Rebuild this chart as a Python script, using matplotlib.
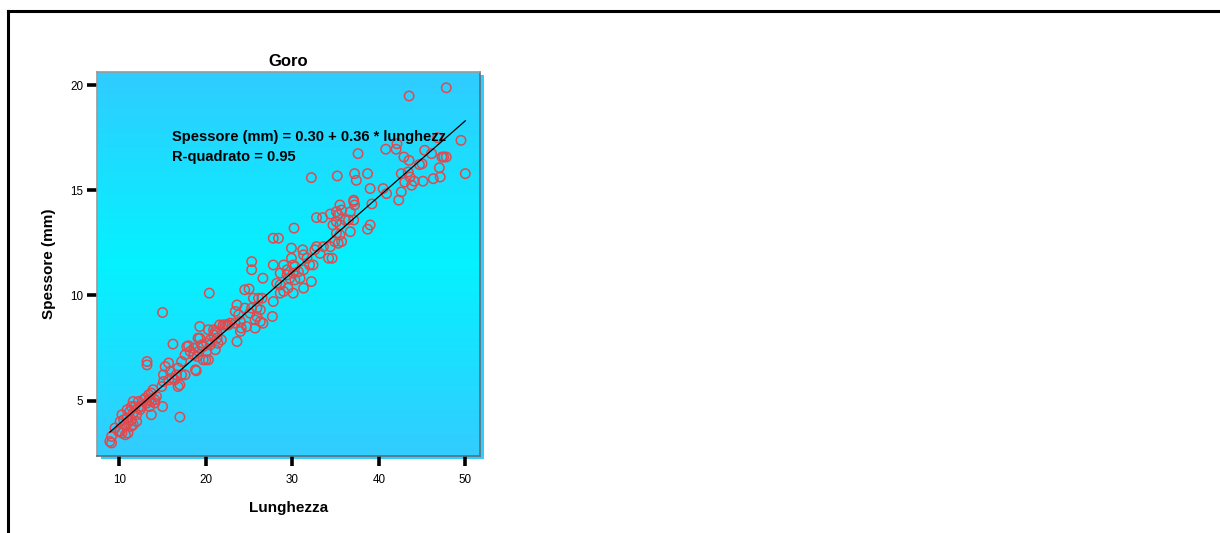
import numpy as np
import matplotlib.pyplot as plt
from matplotlib.colors import LinearSegmentedColormap
from matplotlib.patches import Rectangle
from matplotlib.lines import Line2D

plt.rcParams['font.family'] = ['Liberation Sans', 'DejaVu Sans']

# Goro: lunghezza vs spessore
lunghezza = [
    47.8, 43.5, 49.5, 50.0, 37.6, 40.8, 42.0, 42.1, 42.9, 43.5, 44.7, 45.0, 45.3, 46.1,
    47.3, 47.5, 47.8, 46.8, 47.0, 47.1, 46.3, 45.1, 44.1, 43.6, 43.4, 43.8, 43.0, 42.6,
    37.2, 37.4, 38.7, 39.0, 40.5, 40.9, 42.6, 42.3, 37.1, 35.2, 32.2,
    39.2, 37.1, 37.2, 35.5, 35.7, 35.1, 35.3, 34.4, 32.8, 33.5, 36.7, 36.1, 36.5, 37.1,
    34.7, 35.1, 39.0, 38.7, 36.7, 35.5, 35.1, 35.5, 34.9, 35.3, 35.7, 34.4, 33.6, 32.8,
    34.6, 30.2, 27.8, 28.4, 29.9, 31.2, 32.6, 33.2, 31.7, 31.3, 29.9, 29.0, 30.1, 32.0,
    32.4, 34.2, 25.3, 25.3, 27.8, 29.4, 30.3, 26.6, 28.6, 29.4, 30.1, 30.7, 31.3, 29.7,
    30.3, 30.9, 28.2, 28.6, 32.2, 31.3, 30.1, 29.0, 28.6, 29.5, 27.8, 24.5, 25.0, 20.4,
    25.5, 26.1, 26.5, 23.6, 24.5, 25.3, 25.9, 26.3, 23.4, 23.8, 25.1, 25.9, 25.7, 26.3,
    24.7, 25.7, 26.6, 27.7, 22.8, 23.4, 24.0, 24.1, 22.0, 22.4, 20.9, 21.3, 19.3, 20.3,
    21.3, 21.4, 20.5, 19.3, 23.6, 17.8, 18.6, 19.7, 20.1, 21.1,
    15.0, 21.6, 22.2, 22.6, 21.1, 20.9, 24.0, 21.8, 19.1, 19.5, 20.1, 20.5, 18.0, 18.2,
    16.2, 17.6, 18.6, 19.0, 19.2, 19.7, 20.0, 20.3, 17.2, 16.8, 13.2, 13.2, 15.3, 15.7,
    15.9, 16.6, 17.2, 17.6, 18.8, 15.1, 15.7, 16.1, 16.4, 17.0, 16.8, 15.1, 14.9, 13.9,
    13.7, 14.3, 13.4, 13.5, 13.0, 11.6, 12.2, 12.8, 13.2, 13.7, 14.1, 14.1, 13.5, 13.7,
    11.4, 11.8, 12.2, 12.6, 10.9, 11.2, 11.6, 12.0, 10.3, 10.5, 10.9, 11.4, 10.1, 10.7,
    11.0, 11.4, 9.5, 9.9, 10.3, 10.7, 11.0, 9.1, 8.9, 9.1, 11.6, 12.0, 17.0, 12.4,
    10.1, 18.9, 15.0,
]
spessore = [
    19.87, 19.48, 17.37, 15.79, 16.74, 16.95, 16.95, 17.21, 16.58, 16.42, 16.22, 16.26, 16.90, 16.74,
    16.58, 16.58, 16.58, 17.50, 16.07, 15.63, 15.55, 15.43, 15.43, 15.63, 15.87, 15.24, 15.39, 15.79,
    15.79, 15.47, 15.79, 15.08, 15.08, 14.84, 14.92, 14.53, 14.53, 15.68, 15.60,
    14.35, 14.46, 14.30, 14.30, 14.06, 13.98, 13.83, 13.87, 13.70, 13.70, 13.97, 13.59, 13.59, 13.59,
    13.35, 13.50, 13.35, 13.15, 13.03, 13.35, 12.96, 12.88, 12.56, 12.48, 12.56, 12.32, 12.32, 12.32,
    11.77, 13.20, 12.72, 12.72, 12.25, 12.17, 12.17, 12.00, 11.77, 11.93, 11.77, 11.45, 11.45, 11.45,
    11.45, 11.77, 11.61, 11.22, 11.45, 11.22, 11.37, 10.82, 11.06, 10.98, 11.06, 11.13, 11.22, 10.82,
    10.74, 10.82, 10.58, 10.50, 10.66, 10.35, 10.11, 10.19, 10.11, 10.35, 9.71, 10.27, 10.31, 10.11,
    9.87, 9.87, 9.87, 9.55, 9.40, 9.40, 9.40, 9.32, 9.24, 9.08, 9.16, 9.00, 8.84, 8.76,
    8.52, 8.45, 8.68, 9.00, 8.68, 8.68, 8.76, 8.45, 8.60, 8.60, 8.37, 8.21, 8.52, 8.37,
    7.97, 7.73, 7.89, 7.97, 7.81, 7.57, 7.49, 7.57, 7.34, 7.42,
    9.19, 8.60, 8.60, 8.60, 8.29, 8.13, 8.29, 7.89, 7.97, 7.65, 7.73, 7.65, 7.61, 7.34,
    7.69, 7.18, 7.18, 7.10, 7.34, 6.94, 6.94, 6.94, 6.86, 6.55, 6.86, 6.70, 6.62, 6.79,
    6.39, 6.23, 6.23, 6.23, 6.47, 6.23, 5.99, 6.07, 5.99, 5.75, 5.67, 5.91, 5.67, 5.52,
    5.36, 5.20, 5.28, 5.04, 5.12, 4.96, 4.96, 5.04, 4.89, 4.96, 4.89, 5.04, 4.72, 4.33,
    4.72, 4.72, 4.65, 4.72, 4.57, 4.49, 4.41, 4.33, 4.33, 4.09, 4.17, 4.09, 4.01, 3.86,
    3.94, 3.78, 3.70, 3.54, 3.46, 3.38, 3.46, 3.30, 3.06, 2.99, 3.86, 4.01, 4.22, 4.57,
    3.54, 6.42, 4.72,
]

intercetta = 0.30
pendenza = 0.36
r2 = 0.95

fig = plt.figure(figsize=(12.2, 5.33), dpi=100)

# outer frame (top + left only)
fig.add_artist(Line2D([7.5 / 1220, 1.0], [1 - 11 / 533, 1 - 11 / 533],
                      transform=fig.transFigure, color='black', lw=2.2))
fig.add_artist(Line2D([7.5 / 1220, 7.5 / 1220], [0, 1 - 11 / 533],
                      transform=fig.transFigure, color='black', lw=2.2))

left, bottom, width, height = 97 / 1220, 1 - 456 / 533, 383 / 1220, 384 / 533

# drop shadow behind the plot area
fig.add_artist(Rectangle((left + 4 / 1220, bottom - 3 / 533), width, height,
                         transform=fig.transFigure, facecolor='#33ccff',
                         edgecolor='none', zorder=0))

ax = fig.add_axes([left, bottom, width, height])
ax.set_xlim(7.42, 51.7)
ax.set_ylim(2.37, 20.62)

# vertical gradient background
cmap = LinearSegmentedColormap.from_list(
    'sfondo', [(0.0, '#30ccff'), (0.5, '#04f2ff'), (1.0, '#33ccff')])
grad = np.linspace(0, 1, 256).reshape(-1, 1)
ax.imshow(grad, cmap=cmap, aspect='auto', extent=[7.42, 51.7, 2.37, 20.62],
          origin='upper', zorder=0)

ax.scatter(lunghezza, spessore, s=46, facecolors='none', edgecolors='#e04a4f',
           linewidths=1.1, zorder=2)

xr = np.array([min(lunghezza), max(lunghezza)])
ax.plot(xr, intercetta + pendenza * xr, color='black', lw=0.9, zorder=3)

ax.text(16.1, 17.53, f'Spessore (mm) = {intercetta:.2f} + {pendenza:.2f} * lunghezz',
        fontsize=10.5, fontweight='bold', va='center', ha='left', zorder=4)
ax.text(16.1, 16.58, f'R-quadrato = {r2:.2f}',
        fontsize=10.5, fontweight='bold', va='center', ha='left', zorder=4)

ax.set_xticks([10, 20, 30, 40, 50])
ax.set_yticks([5, 10, 15, 20])
ax.tick_params(axis='both', direction='out', length=7, width=2.6, color='black',
               labelsize=8.4, pad=6)
ax.tick_params(axis='y', pad=3)

for side in ['left', 'top']:
    ax.spines[side].set_color('#9a9a9a')
for side in ['right', 'bottom']:
    ax.spines[side].set_color('#5f6f75')
for sp in ax.spines.values():
    sp.set_linewidth(1.2)

ax.set_title('Goro', fontsize=12, fontweight='bold', pad=4)
ax.set_xlabel('Lunghezza', fontsize=11, fontweight='bold', labelpad=11)
ax.set_ylabel('Spessore (mm)', fontsize=11, fontweight='bold', labelpad=10)

fig.savefig('out.png', dpi=100)
